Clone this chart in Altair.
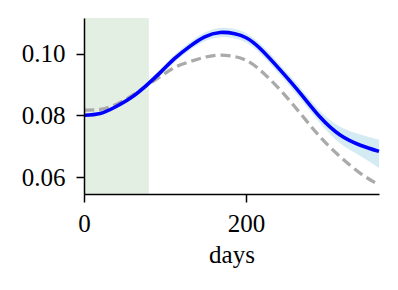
import altair as alt
import pandas as pd

days = [0, 20, 38, 57, 75, 94, 112, 131, 149, 168, 186, 200, 217, 242, 267, 291, 316, 341, 364]
model = [0.0800, 0.0806, 0.0826, 0.0855, 0.0892, 0.0938, 0.0984, 0.1024, 0.1054, 0.1068, 0.1064,
         0.1051, 0.1017, 0.0947, 0.0871, 0.0795, 0.0736, 0.0703, 0.0683]
band_lo = [0.0796, 0.0801, 0.0820, 0.0847, 0.0883, 0.0927, 0.0972, 0.1011, 0.1040, 0.1053, 0.1049,
           0.1036, 0.1001, 0.0930, 0.0853, 0.0775, 0.0709, 0.0668, 0.0629]
band_hi = [0.0804, 0.0811, 0.0832, 0.0863, 0.0901, 0.0949, 0.0996, 0.1037, 0.1068, 0.1083, 0.1079,
           0.1066, 0.1033, 0.0964, 0.0889, 0.0815, 0.0763, 0.0738, 0.0721]
reference = [0.0817, 0.0819, 0.0833, 0.0860, 0.0892, 0.0925, 0.0955, 0.0974, 0.0988, 0.0995, 0.0990,
             0.0978, 0.0947, 0.0882, 0.0806, 0.0731, 0.0666, 0.0612, 0.0574]
shade_start = [0]
shade_end = [80]

df = pd.DataFrame({"day": days, "model": model, "lo": band_lo, "hi": band_hi, "ref": reference})
shade = pd.DataFrame({"x0": shade_start, "x1": shade_end})

FONT = "Liberation Serif"
xscale = alt.Scale(domain=[0, 364], nice=False, zero=False)
yscale = alt.Scale(domain=[0.0545, 0.1115], nice=False, zero=False)

xaxis = alt.Axis(values=[0, 200], title="days", grid=False, tickSize=8, labelPadding=9,
                 titlePadding=6, format="d", labelFlush=False, zindex=2)
yaxis = alt.Axis(values=[0.06, 0.08, 0.10], title=None, grid=False, tickSize=8, labelPadding=11,
                 format=".2f", zindex=2)

rect = alt.Chart(shade).mark_rect(color="#e4efe4").encode(
    x=alt.X("x0:Q", scale=xscale, axis=xaxis),
    x2="x1:Q",
    y=alt.value(0),
    y2=alt.value(176),
)

band = alt.Chart(df).mark_area(color="#d5ebf3", interpolate="natural").encode(
    x=alt.X("day:Q", scale=xscale),
    y=alt.Y("lo:Q", scale=yscale, axis=yaxis),
    y2="hi:Q",
)

refline = alt.Chart(df).mark_line(color="#aaaaaa", strokeWidth=3.3, strokeDash=[10, 5],
                                  interpolate="natural").encode(
    x=alt.X("day:Q", scale=xscale),
    y=alt.Y("ref:Q", scale=yscale),
)

line = alt.Chart(df).mark_line(color="#0000ff", strokeWidth=3.6, interpolate="natural").encode(
    x=alt.X("day:Q", scale=xscale),
    y=alt.Y("model:Q", scale=yscale),
)

chart = alt.layer(rect, band, refline, line).properties(
    width=295, height=176,
    autosize=alt.AutoSizeParams(type="none"),
    padding={"left": 76, "top": 10, "right": 11, "bottom": 88},
).configure_view(stroke=None).configure_axis(
    domainColor="black", domainWidth=1.5, tickColor="black", tickWidth=1.5,
    labelFont=FONT, labelFontSize=25, labelColor="black",
    titleFont=FONT, titleFontSize=25, titleColor="black", titleFontWeight="normal",
)

chart.save("out.html", embed_options={"renderer": "svg", "actions": False})
